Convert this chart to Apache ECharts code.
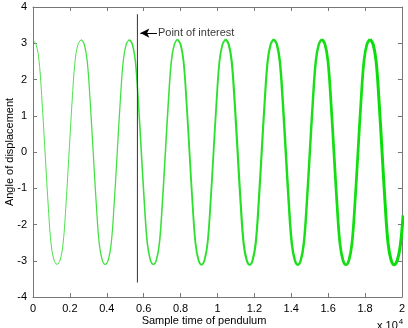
<!DOCTYPE html>
<html>
<head>
<meta charset="utf-8">
<script src="https://cdn.jsdelivr.net/npm/echarts@6/dist/echarts.min.js"></script>
<style>
  html, body { margin: 0; padding: 0; background: #fff; }
  #chart { width: 408px; height: 328px; }
</style>
</head>
<body>
<div id="chart"></div>
<script>
// sample time axis is in units of 10^4 samples, one reading every sampleStep
const sampleStep = 0.0163125;

// angle of displacement, one value per sample
const angle = [
  3.08, 2.97, 2.52, 1.40, 0, -1.40, -2.52, -2.98, -3.10, -2.98, -2.52, -1.40, 0, 1.40, 2.52, 2.98,
  3.10, 2.98, 2.52, 1.40, 0, -1.40, -2.52, -2.98, -3.10, -2.98, -2.52, -1.40, 0, 1.40, 2.52, 2.98,
  3.10, 2.98, 2.52, 1.40, 0, -1.40, -2.52, -2.98, -3.10, -2.98, -2.52, -1.40, 0, 1.40, 2.52, 2.98,
  3.11, 2.98, 2.52, 1.40, 0, -1.40, -2.52, -2.98, -3.11, -2.98, -2.52, -1.40, 0, 1.40, 2.52, 2.98,
  3.11, 2.98, 2.52, 1.40, 0, -1.40, -2.52, -2.98, -3.11, -2.98, -2.52, -1.40, 0, 1.40, 2.52, 2.98,
  3.11, 2.98, 2.52, 1.40, 0, -1.40, -2.52, -2.98, -3.11, -2.98, -2.52, -1.40, 0, 1.40, 2.52, 2.98,
  3.11, 2.98, 2.52, 1.40, 0, -1.40, -2.52, -2.98, -3.11, -2.98, -2.52, -1.40, 0, 1.40, 2.52, 2.98,
  3.11, 2.98, 2.52, 1.40, 0, -1.40, -2.52, -2.98, -3.11, -3.00, -2.62, -1.75
];

// the trace gets heavier to the right; split at the peaks
const segmentStarts = [0, 16, 32, 48, 64, 80, 96, 112, 123];
const segmentWidths = [1, 1.25, 1.55, 1.85, 2.15, 2.45, 2.75, 3];
const segmentColors = ['#4be24b', '#42e142', '#38e038', '#2ee02e', '#24df24', '#1ade1a', '#12de12', '#0bdd0b'];

// point of interest marker
const poiTime = 0.566;
const poiTop = 3.8;
const poiBottom = -3.6;
const noteY = 3.28;
const noteTail = 0.672;
const noteTip = 0.582;
const noteText = 'Point of interest';

const xTicks = { min: 0, max: 2, interval: 0.2 };
const yTicks = { min: -4, max: 4, interval: 1 };

const font = 'Liberation Sans, Arial, Helvetica, sans-serif';

const points = angle.map((v, i) => [i * sampleStep, v]);

const traceSeries = [];
for (let s = 0; s < segmentStarts.length - 1; s++) {
  traceSeries.push({
    type: 'line',
    data: points.slice(segmentStarts[s], segmentStarts[s + 1] + 1),
    smooth: 0.4,
    symbol: 'none',
    clip: true,
    lineStyle: { color: segmentColors[s], width: segmentWidths[s] },
    z: 2
  });
}

const axisLine = { show: true, onZero: false, lineStyle: { color: '#777', width: 1 } };
const axisTick = { show: true, inside: true, length: 4, lineStyle: { color: '#777' } };
const axisLabel = { color: '#000', fontSize: 11, fontFamily: font };

const chart = echarts.init(document.getElementById('chart'), null, { renderer: 'canvas' });

chart.setOption({
  animation: false,
  backgroundColor: '#fff',
  grid: { left: 33, right: 6, top: 7, bottom: 31, containLabel: false },
  xAxis: [
    {
      type: 'value', ...xTicks, position: 'bottom',
      axisLine, axisTick, splitLine: { show: false },
      axisLabel: { ...axisLabel, margin: 6, formatter: v => String(+v.toFixed(1)) }
    },
    {
      type: 'value', ...xTicks, position: 'top',
      axisLine, axisTick, splitLine: { show: false }, axisLabel: { show: false }
    }
  ],
  yAxis: [
    {
      type: 'value', ...yTicks, position: 'left',
      axisLine, axisTick, splitLine: { show: false },
      axisLabel: { ...axisLabel, margin: 6 }
    },
    {
      type: 'value', ...yTicks, position: 'right',
      axisLine, axisTick, splitLine: { show: false }, axisLabel: { show: false }
    }
  ],
  series: [
    ...traceSeries,
    {
      type: 'line',
      data: [[poiTime, poiTop], [poiTime, poiBottom]],
      symbol: 'none',
      lineStyle: { color: '#333', width: 1 },
      z: 3,
      markLine: {
        silent: true,
        symbol: ['none', 'arrow'],
        symbolSize: [7, 9],
        lineStyle: { color: '#000', width: 1, type: 'solid' },
        label: { show: false },
        data: [[{ coord: [noteTail, noteY] }, { coord: [noteTip, noteY] }]]
      }
    },
    {
      type: 'scatter',
      data: [[noteTail, noteY]],
      symbolSize: 0,
      label: {
        show: true, position: 'right', distance: 1,
        formatter: noteText, color: '#000', fontSize: 11, fontFamily: font
      },
      z: 4
    }
  ],
  graphic: [
    {
      type: 'text', left: 'center', top: 315,
      style: { text: 'Sample time of pendulum', fill: '#000', font: '11px ' + font }
    },
    {
      type: 'text', x: 10, y: 152, rotation: Math.PI / 2,
      style: { text: 'Angle of displacement', fill: '#000', font: '11px ' + font, align: 'center', verticalAlign: 'middle' }
    },
    {
      type: 'text', x: 377, y: 318,
      style: {
        text: '{a|x 10}{b|4}',
        rich: {
          a: { fill: '#000', fontSize: 11, fontFamily: font },
          b: { fill: '#000', fontSize: 8, fontFamily: font, verticalAlign: 'top', padding: [0, 0, 8, 1] }
        }
      }
    }
  ]
});
</script>
</body>
</html>
